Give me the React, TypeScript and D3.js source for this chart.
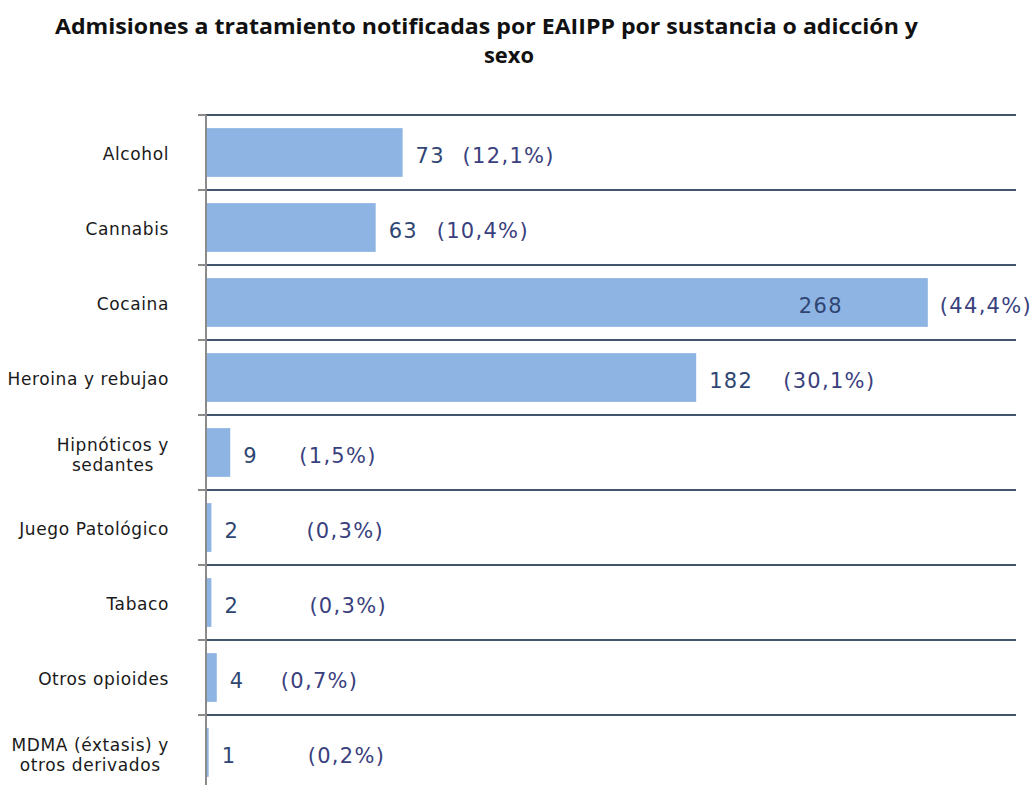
import React, { useEffect, useRef } from "react";
import * as d3 from "d3";

const categories: string[][] = [
  ["Alcohol"],
  ["Cannabis"],
  ["Cocaina"],
  ["Heroina y rebujao"],
  ["Hipnóticos y", "sedantes"],
  ["Juego Patológico"],
  ["Tabaco"],
  ["Otros opioides"],
  ["MDMA (éxtasis) y", "otros derivados"],
];
const values: number[] = [73, 63, 268, 182, 9, 2, 2, 4, 1];
const percentLabels: string[] = ["(12,1%)", "(10,4%)", "(44,4%)", "(30,1%)", "(1,5%)", "(0,3%)", "(0,3%)", "(0,7%)", "(0,2%)"];
// layout: gap (px) from bar end to the start of each percentage label
const pctGap: number[] = [60, 61, 12, 87, 69, 95, 98, 64, 99];
const titleLines = ["Admisiones a tratamiento notificadas por EAIIPP  por sustancia o adicción y", "sexo"];

const W = 1036;
const H = 785;

export default function App() {
  const ref = useRef<SVGSVGElement>(null);
  useEffect(() => {
    const svg = d3.select(ref.current);
    svg.selectAll("*").remove();
    const keys = categories.map((c) => c.join(" "));
    const top = 115;
    const step = 75;
    const y = d3.scaleBand<string>().domain(keys).range([top, top + step * keys.length]).paddingInner(0.35).paddingOuter(0.175);
    const x = d3.scaleLinear().domain([0, 300]).range([206, 1014]);

    svg.append("rect").attr("width", W).attr("height", H).attr("fill", "#fff");

    // title
    svg.append("text")
      .attr("x", 55).attr("y", 34)
      .attr("textLength", 863).attr("lengthAdjust", "spacingAndGlyphs")
      .attr("font-family", "'Open Sans', sans-serif").attr("font-weight", 700).attr("font-size", 21)
      .attr("fill", "#111").text(titleLines[0]);
    svg.append("text")
      .attr("x", 509).attr("y", 63).attr("text-anchor", "middle")
      .attr("font-family", "'Open Sans', sans-serif").attr("font-weight", 700).attr("font-size", 21)
      .attr("textLength", 50).attr("lengthAdjust", "spacingAndGlyphs")
      .attr("fill", "#111").text(titleLines[1]);

    // bars
    svg.append("g").selectAll("rect").data(values).join("rect")
      .attr("x", x(0))
      .attr("y", (_d, i) => y(keys[i])!)
      .attr("width", (d) => x(d) - x(0))
      .attr("height", y.bandwidth())
      .attr("fill", "#8EB4E3");

    // horizontal separators
    const bounds = d3.range(keys.length).map((i) => top + i * step);
    svg.append("g").selectAll("line").data(bounds).join("line")
      .attr("x1", 199).attr("x2", 1016)
      .attr("y1", (d) => d).attr("y2", (d) => d)
      .attr("stroke", "#44546A").attr("stroke-width", 2);
    // tick marks grey
    svg.append("g").selectAll("line").data(bounds).join("line")
      .attr("x1", 198).attr("x2", 206)
      .attr("y1", (d) => d).attr("y2", (d) => d)
      .attr("stroke", "#8a8a8a").attr("stroke-width", 2);
    // axis
    svg.append("line").attr("x1", 206).attr("x2", 206).attr("y1", top).attr("y2", H)
      .attr("stroke", "#8a8a8a").attr("stroke-width", 2);

    const center = (i: number) => y(keys[i])! + y.bandwidth() / 2;
    const maxV = d3.max(values)!;

    // value labels
    const valFont = "'DejaVu Sans', Verdana, sans-serif";
    svg.append("g").selectAll("text").data(values).join("text")
      .attr("x", (d) => (d === maxV ? x(d) - 85 : x(d) + 13))
      .attr("y", (_d, i) => center(i) + 10.5)
      .attr("text-anchor", (d) => (d === maxV ? "end" : "start"))
      .attr("font-family", valFont).attr("font-size", 21).attr("letter-spacing", 1.3)
      .attr("fill", "#2F4673")
      .text((d) => String(d));

    // percentage labels
    svg.append("g").selectAll("text").data(percentLabels).join("text")
      .attr("x", (_d, i) => x(values[i]) + pctGap[i])
      .attr("y", (_d, i) => center(i) + 10.5)
      .attr("font-family", valFont).attr("font-size", 21).attr("letter-spacing", 1.3)
      .attr("fill", "#3A3F7E")
      .text((d) => d);

    // category labels
    const labelRight = 169;
    const catG = svg.append("g");
    categories.forEach((lines, i) => {
      const c = center(i);
      if (lines.length === 1) {
        catG.append("text").attr("x", labelRight).attr("y", c + 7)
          .attr("text-anchor", "end").attr("font-family", valFont).attr("font-size", 17).attr("letter-spacing", 0.6)
          .attr("fill", "#1a1a1a").text(lines[0]);
      } else {
        const ts = lines.map((l, k) =>
          catG.append("text").attr("y", c - 2 + k * 20)
            .attr("text-anchor", "middle").attr("font-family", valFont).attr("font-size", 17).attr("letter-spacing", 0.6)
            .attr("fill", "#1a1a1a").text(l)
        );
        const wMax = d3.max(ts, (t) => (t.node() as SVGTextElement).getComputedTextLength())!;
        ts.forEach((t) => t.attr("x", labelRight - wMax / 2));
      }
    });
  }, []);
  return (
    <svg ref={ref} width={W} height={H} style={{ position: "absolute", left: 0, top: 0, display: "block" }} />
  );
}
